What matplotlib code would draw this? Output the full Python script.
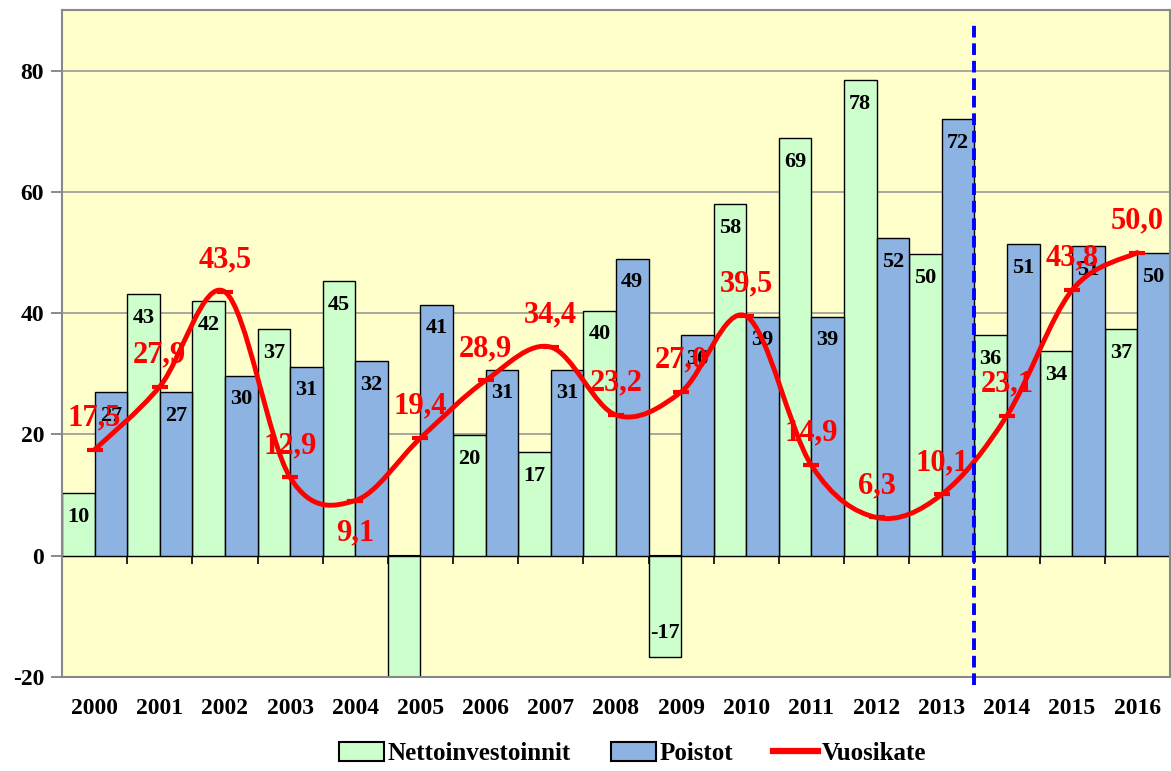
import matplotlib.pyplot as plt
import numpy as np
from matplotlib.path import Path
from matplotlib.patches import PathPatch, Patch
from matplotlib.lines import Line2D

years = ['2000', '2001', '2002', '2003', '2004', '2005', '2006', '2007', '2008',
         '2009', '2010', '2011', '2012', '2013', '2014', '2015', '2016']
nettoinvestoinnit = [10.3, 43.1, 42.0, 37.4, 45.3, -27.0, 19.9, 17.1, 40.4,
                     -16.7, 58.0, 68.9, 78.4, 49.7, 36.4, 33.7, 37.4]
poistot = [27.0, 27.0, 29.7, 31.2, 32.1, 41.4, 30.7, 30.7, 49.0,
           36.4, 39.4, 39.4, 52.4, 72.0, 51.4, 51.0, 49.9]
vuosikate = [17.5, 27.9, 43.5, 12.9, 9.1, 19.4, 28.9, 34.4, 23.2,
             27.0, 39.5, 14.9, 6.3, 10.1, 23.1, 43.8, 50.0]

plt.rcParams['font.family'] = ['Liberation Serif', 'DejaVu Serif']
plt.rcParams['font.weight'] = 'bold'
plt.rcParams['axes.unicode_minus'] = False

green = '#ccffcc'
blue = '#8db3e2'
ymin, ymax = -20, 90

fig = plt.figure(figsize=(11.71, 7.71), dpi=100)
ax = fig.add_axes([0.053, 0.122, 0.946, 0.865])
ax.set_facecolor('#ffffcc')

x = np.arange(len(years))
ax.set_xlim(-0.5, len(years) - 0.5)
ax.set_ylim(ymin, ymax)

ax.set_yticks([-20, 0, 20, 40, 60, 80])
for g in [20, 40, 60, 80]:
    ax.axhline(g, color='#999999', lw=1.2, zorder=0)

ax.bar(x - 0.25, nettoinvestoinnit, 0.5, color=green, edgecolor='black', lw=1, zorder=2)
ax.bar(x + 0.25, poistot, 0.5, color=blue, edgecolor='black', lw=1, zorder=2)

# value labels inside the bar ends
for xs, vals in [(x - 0.25, nettoinvestoinnit), (x + 0.25, poistot)]:
    for xi, v in zip(xs, vals):
        off = -17 if v >= 0 else 17
        ax.annotate(f'{v:.0f}', (xi, v), xytext=(0, off), textcoords='offset points',
                    ha='center', va='center', fontsize=16, fontweight='bold', zorder=3)

# smoothed line (bezier through the yearly points, like excel smoothing)
pts = list(zip(x, vuosikate))
verts = [pts[0]]
codes = [Path.MOVETO]
n = len(pts)
for i in range(n - 1):
    p0 = np.array(pts[max(i - 1, 0)], float)
    p1 = np.array(pts[i], float)
    p2 = np.array(pts[i + 1], float)
    p3 = np.array(pts[min(i + 2, n - 1)], float)
    c1 = p1 + (p2 - p0) / 6
    c2 = p2 - (p3 - p1) / 6
    verts += [tuple(c1), tuple(c2), tuple(p2)]
    codes += [Path.CURVE4] * 3
ax.add_patch(PathPatch(Path(verts, codes), fill=False, edgecolor='red', lw=3.5,
                       zorder=4, capstyle='round'))
ax.plot(x, vuosikate, ls='none', marker='_', ms=12, mew=3, color='red', zorder=5)

for xi, v in zip(x, vuosikate):
    off = -23 if years[xi] == '2004' else 23
    ax.annotate(f'{v:.1f}'.replace('.', ','), (xi, v), xytext=(0, off),
                textcoords='offset points', ha='center', va='center',
                fontsize=22, fontweight='bold', color='red', zorder=6)

# forecast separator
ax.axvline(13.5, ymin=-0.012, ymax=0.985, color='#0000ff', ls=(0, (3, 1.5)), lw=2.8,
           clip_on=False, zorder=7)

# category axis at zero with tick marks between years
zero_frac = (0 - ymin) / (ymax - ymin)
sec = ax.secondary_xaxis(zero_frac)
sec.set_xticks(np.arange(len(years) - 1) + 0.5)
sec.set_xticklabels([])
sec.tick_params(axis='x', direction='out', length=6, width=1.2, color='black')
sec.spines['bottom'].set_linewidth(1.5)

ax.set_xticks(x)
ax.set_xticklabels(years)
ax.tick_params(axis='x', length=0, pad=15, labelsize=17)
ax.tick_params(axis='y', direction='out', length=8, width=1.2, color='#777777',
               labelsize=17, pad=5)

for s in ax.spines.values():
    s.set_color('#888888')
    s.set_linewidth(1.5)

handles = [Patch(facecolor=green, edgecolor='black', lw=1.5),
           Patch(facecolor=blue, edgecolor='black', lw=1.5),
           Line2D([], [], color='red', lw=4.5)]
fig.legend(handles, ['Nettoinvestoinnit', 'Poistot', 'Vuosikate'], ncol=3,
           loc='lower center', bbox_to_anchor=(0.54, -0.022), frameon=False,
           prop={'size': 18, 'weight': 'bold'}, handlelength=1.8, handleheight=0.8,
           handletextpad=0.15, columnspacing=1.6)

fig.savefig('out.png', dpi=100)
